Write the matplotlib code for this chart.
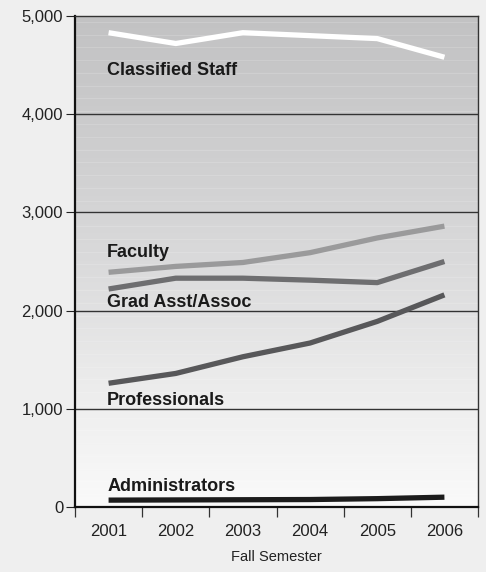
"""Employee headcount by category, fall semesters 2001-2006."""
import numpy as np
import matplotlib
matplotlib.use("Agg")
import matplotlib.pyplot as plt
from matplotlib.colors import LinearSegmentedColormap

# ── data ─────────────────────────────────────────────────────
years = ["2001", "2002", "2003", "2004", "2005", "2006"]
classified = [4830, 4720, 4830, 4800, 4770, 4580]
faculty = [2390, 2450, 2490, 2590, 2740, 2860]
grad_asst = [2220, 2330, 2330, 2310, 2285, 2500]
professionals = [1260, 1360, 1530, 1670, 1890, 2160]
administrators = [70, 72, 74, 76, 85, 100]

series = [
    ("Classified Staff", classified, "#ffffff", 4440),
    ("Faculty", faculty, "#9a9a9b", 2590),
    ("Grad Asst/Assoc", grad_asst, "#6e6e70", 2080),
    ("Professionals", professionals, "#58585a", 1080),
    ("Administrators", administrators, "#1c1c1c", 205),
]

FONT = ["Liberation Sans Narrow", "Liberation Sans", "DejaVu Sans"]
plt.rcParams["font.family"] = FONT

fig = plt.figure(figsize=(4.86, 5.72), dpi=100, facecolor="#efefef")
ax = fig.add_axes([75/486, 1 - 507/572, 403/486, 491/572])

x = np.arange(len(years))
ax.set_xlim(-0.5, len(years) - 0.5)
ax.set_ylim(0, 5000)

# background gradient: dark at top, nearly white at bottom
cmap = LinearSegmentedColormap.from_list(
    "bg", ["#fafafa", "#ececec", "#dadadb", "#cdcdce", "#c2c2c3"])
grad = np.linspace(0, 1, 256).reshape(-1, 1)
ax.imshow(grad, cmap=cmap, aspect="auto", origin="lower",
          extent=(-0.5, len(years) - 0.5, 0, 5000), zorder=0)
# faint light stripes
for yy in np.arange(130, 5000, 130):
    ax.axhline(yy, color="white", lw=0.6, alpha=0.18, zorder=0.5)

for yy in [1000, 2000, 3000, 4000]:
    ax.axhline(yy, color="#333333", lw=1.0, zorder=1)

for label, vals, color, ly in series:
    ax.plot(x, vals, color=color, lw=3.8, solid_capstyle="butt", zorder=3)
    ax.text(-0.02, ly, label, ha="left", va="center", fontsize=13,
            fontweight="bold", color="#1a1a1a", zorder=4)

# axes styling
ax.spines["left"].set_linewidth(1.6)
ax.spines["bottom"].set_linewidth(1.6)
ax.spines["left"].set_color("#111111")
ax.spines["bottom"].set_color("#111111")
ax.spines["top"].set_color("#333333")
ax.spines["right"].set_color("#333333")
ax.spines["top"].set_linewidth(1.0)
ax.spines["right"].set_linewidth(1.0)

ax.set_yticks([0, 1000, 2000, 3000, 4000, 5000])
ax.set_yticklabels(["0", "1,000", "2,000", "3,000", "4,000", "5,000"])
ax.tick_params(axis="y", length=6.5, width=0.8, pad=2, labelsize=12,
               colors="#222222")

ax.set_xticks(x)
ax.set_xticklabels(years)
ax.set_xticks(np.arange(-0.5, len(years)), minor=True)
ax.tick_params(axis="x", which="major", length=0, pad=12, labelsize=12,
               colors="#222222")
ax.tick_params(axis="x", which="minor", length=7, width=0.9, color="#333333")

ax.set_xlabel("Fall Semester", fontsize=10.5, color="#222222", labelpad=8)

fig.savefig("out.png", dpi=100, facecolor=fig.get_facecolor())
plt.close(fig)
